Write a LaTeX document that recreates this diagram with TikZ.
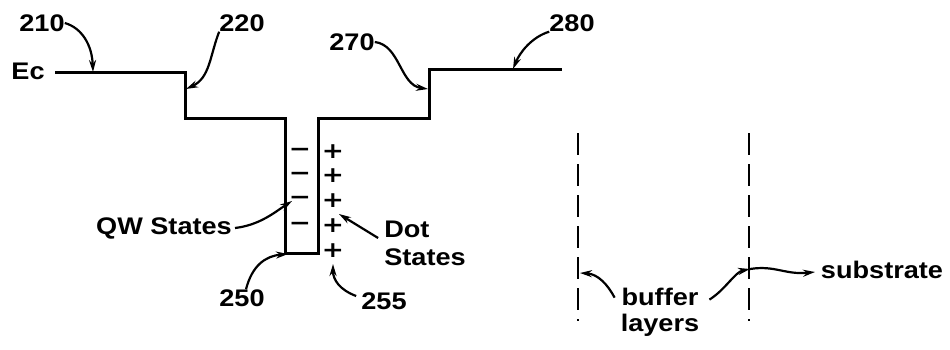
\documentclass[tikz,border=0pt]{standalone}
\usepackage{fontspec}
\setmainfont{Liberation Sans}[FakeStretch=1.13]
\newfontfamily\signfont{DejaVu Sans}[FakeStretch=1.2]
\usetikzlibrary{arrows.meta}
\begin{document}
\begin{tikzpicture}[x=1pt,y=-1pt,
  lbl/.style={font=\bfseries\fontsize{24}{28}\selectfont, inner sep=0pt},
  sign/.style={font=\signfont\bfseries\fontsize{22}{22}\selectfont, inner sep=0pt},
  band/.style={line width=3pt, line join=miter},
  ptr/.style={line width=2.2pt, -{Stealth[length=12pt,width=7pt]}},
  layer/.style={line width=2.6pt, dash pattern=on 22pt off 9pt}]
\useasboundingbox (0,0) rectangle (950,349);
% band edge
\coordinate (b0) at (55,72);
\coordinate (b1) at (185,72);
\coordinate (b2) at (185,118);
\coordinate (b3) at (285,118);
\coordinate (b4) at (285,253);
\coordinate (b5) at (318,253);
\coordinate (b6) at (318,118);
\coordinate (b7) at (429,118);
\coordinate (b8) at (429,69);
\coordinate (b9) at (562,69);
\draw[band] (b0) -- (b1) -- (b2) -- (b3) -- (b4) -- (b5) -- (b6) -- (b7) -- (b8) -- (b9);
% states
\foreach \y [count=\i] in {152,176,200,226} \node[sign] (m\i) at (300,\y) {−};
\foreach \y [count=\i] in {152,176,201,226,251} \node[sign] (p\i) at (333,\y) {+};
% buffer layer boundaries
\coordinate (d1a) at (578,133); \coordinate (d1b) at (578,321);
\coordinate (d2a) at (749,133); \coordinate (d2b) at (749,321);
\draw[layer] (d1a) -- (d1b);
\draw[layer] (d2a) -- (d2b);
% labels
\node[lbl] (nEc) at (28,71) {Ec};
\node[lbl] (n210) at (42,23) {210};
\node[lbl] (n220) at (242,23) {220};
\node[lbl] (n270) at (352,42) {270};
\node[lbl] (n280) at (572,23) {280};
\node[lbl] (nqw) at (164,228) {QW States};
\node[lbl, align=left] (ndot) at (425,243) {Dot\\States};
\node[lbl] (n250) at (242,298) {250};
\node[lbl] (n255) at (384,301) {255};
\node[lbl, align=center, font=\bfseries\fontsize{24}{26}\selectfont] (nbuf) at (660,312) {buffer\\layers};
\node[lbl] (nsub) at (882,270) {substrate};
% arrow tips
\coordinate (t210) at (93,72);
\coordinate (t220) at (186,89);
\coordinate (t270) at (428,89);
\coordinate (t280) at (513,69);
\coordinate (tqw) at (292,201);
\coordinate (tdot) at (339,214);
\coordinate (t250) at (288,254);
\coordinate (t255) at (333,264);
\coordinate (tbl) at (580,273);
\coordinate (tbr) at (750,269);
\coordinate (tsub) at (815,272);
% pointers
\draw[ptr] (n210.east) .. controls (82,28) and (92,45) .. (t210);
\draw[ptr] (n220.south west) .. controls (210,55) and (210,78) .. (t220);
\draw[ptr] (n270.east) .. controls (400,45) and (400,85) .. (t270);
\draw[ptr] (n280.south west) .. controls (532,37) and (520,52) .. (t280);
\draw[ptr] ([xshift=3pt]nqw.east) .. controls (260,225) and (275,212) .. (tqw);
\draw[ptr] ([xshift=-6pt,yshift=5pt]ndot.west) -- (tdot);
\draw[ptr] ([xshift=4pt]n250.north) .. controls (252,266) and (265,256) .. (t250);
\draw[ptr] ([xshift=-5pt,yshift=5pt]n255.west) .. controls (340,290) and (333,280) .. (t255);
\draw[ptr] ([xshift=-6pt,yshift=-10pt]nbuf.north west) .. controls (608,285) and (598,274) .. (tbl);
\draw[ptr] ([xshift=10pt,yshift=-12pt]nbuf.north east) .. controls (725,290) and (735,272) .. (tbr);
\draw[ptr] (tbr) .. controls (775,265) and (785,275) .. (tsub);
\end{tikzpicture}
\end{document}
